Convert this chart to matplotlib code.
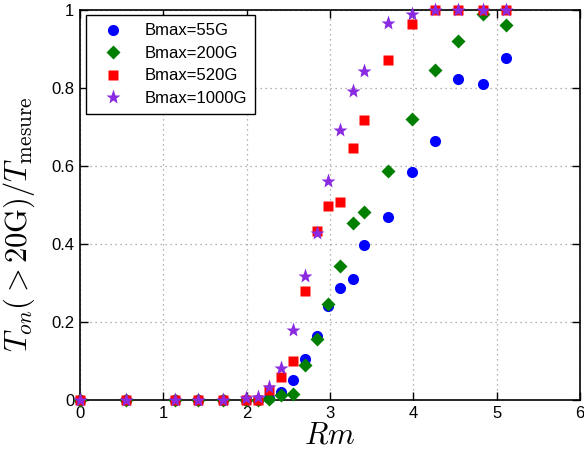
import matplotlib
matplotlib.use("Agg")
import matplotlib.pyplot as plt

plt.rcParams['font.family'] = ['Liberation Sans', 'DejaVu Sans']
plt.rcParams['mathtext.fontset'] = 'cm'

# Rm values (shared by all series)
rm = [0.0, 0.55, 1.14, 1.42, 1.71, 1.99, 2.13, 2.27, 2.41, 2.56, 2.70,
      2.84, 2.98, 3.12, 3.27, 3.41, 3.69, 3.98, 4.26, 4.54, 4.83, 5.11]

# fraction of time with B > 20G
b55 = [0, 0, 0, 0, 0, 0, 0, 0.005, 0.021, 0.051, 0.106,
       0.165, 0.240, 0.287, 0.310, 0.397, 0.468, 0.585, 0.664, 0.823, 0.810, 0.877]
b200 = [0, 0, 0, 0, 0, 0, 0, 0.003, 0.013, 0.015, 0.091,
        0.156, 0.247, 0.343, 0.453, 0.483, 0.587, 0.721, 0.847, 0.921, 0.99, 0.962]
b520 = [0, 0, 0, 0, 0, 0, 0, 0.026, 0.060, 0.101, 0.279,
        0.434, 0.497, 0.508, 0.647, 0.717, 0.871, 0.965, 1.0, 1.0, 1.0, 1.0]
b1000 = [0, 0, 0, 0, 0, 0.004, 0.008, 0.034, 0.081, 0.180, 0.317,
         0.427, 0.562, 0.692, 0.793, 0.843, 0.966, 0.990, 1.0, 1.0, 1.0, 1.0]

labels = ['Bmax=55G', 'Bmax=200G', 'Bmax=520G', 'Bmax=1000G']

fig = plt.figure(figsize=(5.84, 4.59), dpi=100)
ax = fig.add_axes([80/584, 59/459, 500/584, 390/459])

ax.plot(rm, b55, 'o', color='#0000ff', ms=8, mec='none', label=labels[0], clip_on=False, zorder=3)
ax.plot(rm, b200, 'D', color='#007f00', ms=7, mec='none', label=labels[1], clip_on=False, zorder=3)
ax.plot(rm, b520, 's', color='#ff0000', ms=7, mec='none', label=labels[2], clip_on=False, zorder=3)
ax.plot(rm, b1000, '*', color='#8a2be2', ms=11, mec='none', label=labels[3], clip_on=False, zorder=3)

ax.set_xlim(0, 6)
ax.set_ylim(0, 1)
ax.set_xticks(range(7))
ax.set_yticks([0, 0.2, 0.4, 0.6, 0.8, 1])
ax.set_yticklabels(['0', '0.2', '0.4', '0.6', '0.8', '1'])
ax.tick_params(direction='in', top=True, right=True, labelsize=12, length=6, width=1, pad=4)
for s in ax.spines.values():
    s.set_linewidth(1.2)
ax.grid(True, linestyle=(0, (1, 3)), color='#999999', linewidth=0.9)

ax.set_xlabel(r'$Rm$', fontsize=22, labelpad=0)
ax.set_ylabel(r'$T_{on}(>20\mathrm{G})/T_{\mathrm{mesure}}$', fontsize=22)
ax.yaxis.set_label_coords(-0.085, 0.45)

leg = ax.legend(loc='upper left', bbox_to_anchor=(0.012, 0.987), borderaxespad=0,
                fontsize=12, fancybox=False, edgecolor='black', framealpha=1,
                handletextpad=0.8, labelspacing=0.45, borderpad=0.5, handlelength=2.2)
leg.get_frame().set_linewidth(1.0)

fig.savefig('out.png', dpi=100)
